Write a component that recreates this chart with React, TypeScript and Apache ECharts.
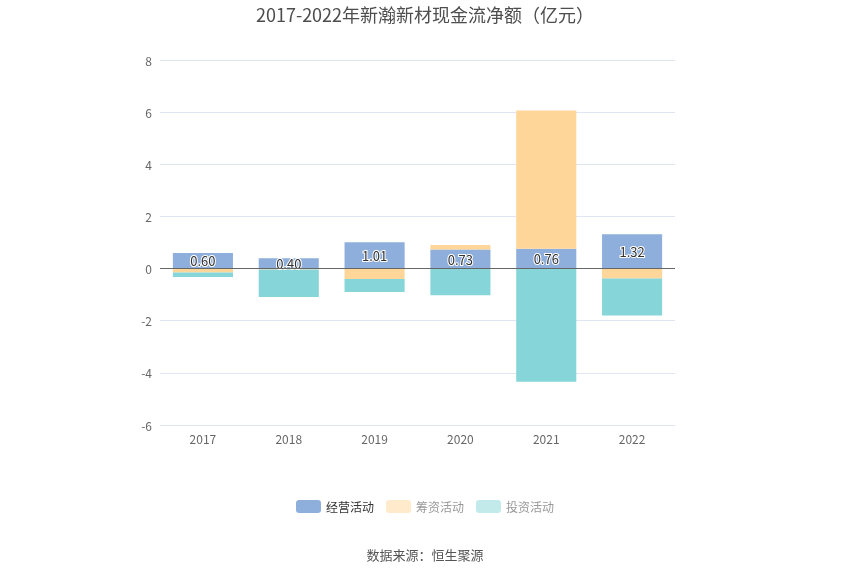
import React, { useEffect, useRef } from "react";
import * as echarts from "echarts";

const years = ["2017", "2018", "2019", "2020", "2021", "2022"];
const operating = [0.6, 0.4, 1.01, 0.73, 0.76, 1.32];
const financing = [-0.15, -0.04, -0.4, 0.17, 5.3, -0.38];
const investing = [-0.17, -1.05, -0.5, -1.02, -4.34, -1.42];
const seriesNames = ["经营活动", "筹资活动", "投资活动"];
const colors = ["#8eaedb", "#ffd699", "#86d5d8"];

const FONT = "'Noto Sans CJK SC', 'Noto Sans', sans-serif";

export default function App() {
  const ref = useRef<HTMLDivElement>(null);
  useEffect(() => {
    if (!ref.current) return;
    const chart = echarts.init(ref.current, null, { renderer: "svg" });
    const datas = [operating, financing, investing];
    chart.setOption({
      animation: false,
      textStyle: { fontFamily: FONT },
      title: {
        text: "2017-2022年新瀚新材现金流净额（亿元）",
        left: "center",
        top: 0,
        textStyle: { fontSize: 18, fontWeight: "normal", color: "#4d4d4d", fontFamily: FONT },
      },
      legend: {
        bottom: 57,
        left: "center",
        itemWidth: 25,
        itemHeight: 13,
        itemGap: 12,
        textStyle: { fontSize: 12, color: "#333", fontFamily: FONT },
        data: [
          { name: seriesNames[0] },
          { name: seriesNames[1], itemStyle: { opacity: 0.5 }, textStyle: { color: "#999" } },
          { name: seriesNames[2], itemStyle: { opacity: 0.5 }, textStyle: { color: "#999" } },
        ],
      },
      graphic: [
        {
          type: "text",
          left: "center",
          top: 548,
          style: { text: "数据来源：恒生聚源", fontSize: 13, fill: "#555", fontFamily: FONT },
        },
      ],
      grid: { left: 160, right: 175, top: 60, bottom: 150 },
      xAxis: {
        type: "category",
        data: years,
        axisLine: { show: false },
        axisTick: { show: false },
        axisLabel: { color: "#666", fontSize: 12, margin: 7 },
      },
      yAxis: {
        type: "value",
        min: -6,
        max: 8,
        interval: 2,
        axisLine: { show: false },
        axisTick: { show: false },
        axisLabel: { color: "#666", fontSize: 12, margin: 8 },
        splitLine: { lineStyle: { color: "#e0e6f1" } },
      },
      series: datas.map((d, i) => ({
        name: seriesNames[i],
        type: "bar",
        stack: "total",
        barWidth: "70%",
        data: d,
        itemStyle: { color: colors[i] },
        label:
          i === 0
            ? {
                show: true,
                position: "inside",
                formatter: (p: any) => Number(p.value).toFixed(2),
                color: "#333",
                fontSize: 13,
                textBorderColor: "#fff",
                textBorderWidth: 2,
              }
            : { show: false },
        markLine:
          i === 0
            ? {
                silent: true,
                symbol: "none",
                label: { show: false },
                lineStyle: { color: "#666", width: 1, type: "solid" },
                data: [{ yAxis: 0 }],
              }
            : undefined,
      })),
    });
    return () => chart.dispose();
  }, []);
  return (
    <div
      ref={ref}
      style={{ position: "fixed", left: 0, top: 0, width: 850, height: 575 }}
    />
  );
}
